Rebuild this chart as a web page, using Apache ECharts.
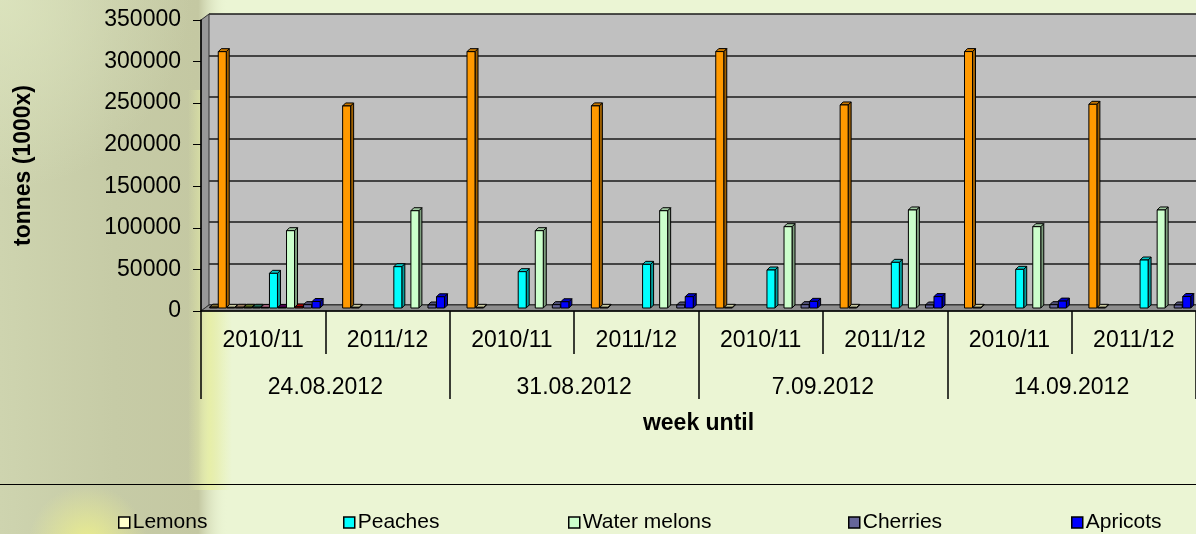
<!DOCTYPE html>
<html>
<head>
<meta charset="utf-8">
<script src="https://cdn.jsdelivr.net/npm/echarts@6/dist/echarts.min.js"></script>
<style>
html, body {margin: 0; padding: 0; background: #EBF5D4;}
#main {width: 1196px; height: 534px;}
</style>
</head>
<body>
<div id="main"></div>
<script>
// categories
var seasons = ['2010/11', '2011/12', '2010/11', '2011/12', '2010/11', '2011/12', '2010/11', '2011/12'];
var weeks = ['24.08.2012', '31.08.2012', '7.09.2012', '14.09.2012'];
var yTicks = {min: 0, max: 350000, step: 50000};

// series values (tonnes x1000), one per season column
var other1 = [1000, 0, 0, 0, 0, 0, 0, 0];
var oranges = [308300, 243000, 308300, 243100, 308400, 244200, 308400, 245000];
var lemons = [800, 800, 800, 800, 800, 800, 800, 800];
var other2 = [900, 0, 0, 0, 0, 0, 0, 0];
var other3 = [900, 0, 0, 0, 0, 0, 0, 0];
var other4 = [900, 0, 0, 0, 0, 0, 0, 0];
var other5 = [700, 0, 0, 0, 0, 0, 0, 0];
var peaches = [41700, 49700, 43700, 52500, 45700, 54900, 46500, 57700];
var other6 = [700, 0, 0, 0, 0, 0, 0, 0];
var waterMelons = [93000, 117000, 93000, 117000, 97800, 117900, 97800, 117900];
var other7 = [1300, 0, 0, 0, 0, 0, 0, 0];
var cherries = [4000, 3600, 4000, 3600, 4000, 3600, 4000, 3600];
var apricots = [7800, 13500, 7500, 13600, 8000, 13700, 8300, 13800];

// names as drawn in the visible legend row
var legendNames = ['Lemons', 'Peaches', 'Water melons', 'Cherries', 'Apricots'];
var legendLeft = [118, 343, 568, 848, 1071];

var fruits = [
    {name: 'Other 1', color: '#A08A40', data: other1},
    {name: 'Oranges', color: '#FF9900', data: oranges},
    {name: 'Lemons', color: '#FFFFCC', data: lemons},
    {name: 'Other 2', color: '#C8A07A', data: other2},
    {name: 'Other 3', color: '#7C9232', data: other3},
    {name: 'Other 4', color: '#2E8B70', data: other4},
    {name: 'Other 5', color: '#D080A0', data: other5},
    {name: 'Peaches', color: '#00FFFF', data: peaches},
    {name: 'Other 6', color: '#660066', data: other6},
    {name: 'Water melons', color: '#CCFFCC', data: waterMelons},
    {name: 'Other 7', color: '#CC0000', data: other7},
    {name: 'Cherries', color: '#666699', data: cherries},
    {name: 'Apricots', color: '#0000FF', data: apricots}
];

var FONT = 'Arial, "Liberation Sans", sans-serif';
var AXIS_FS = 23;
// plot frame (front) and 3d depth of the back wall
var GL = 201, GT = 20, GB = 311, GRIGHT = -8, DEPTH = 6;
var BAR_W = 8, BAR_D = 3;

function shade(hex, k) {
    var n = parseInt(hex.slice(1), 16);
    var r = Math.round(((n >> 16) & 255) * k);
    var g = Math.round(((n >> 8) & 255) * k);
    var b = Math.round((n & 255) * k);
    return 'rgb(' + r + ',' + g + ',' + b + ')';
}

function makeRender(slot, color) {
    var side = shade(color, 0.62);
    var topc = shade(color, 0.78);
    return function (params, api) {
        var v = api.value(1);
        if (!v) return null;
        var c = api.value(0);
        var band = api.size([1, 0])[0];
        var pitch = band * 0.0686;
        var base = api.coord([c, 0]);
        var x = base[0] - pitch * fruits.length / 2 + slot * pitch + 2;
        var yb = base[1] - DEPTH / 2;
        var yt = api.coord([c, v])[1] - DEPTH / 2;
        var w = BAR_W, d = BAR_D;
        var st = {stroke: '#000', lineWidth: 1};
        return {
            type: 'group',
            children: [
                {type: 'polygon', shape: {points: [[x + w, yt], [x + w + d, yt - d], [x + w + d, yb - d], [x + w, yb]]},
                    style: echarts.util.extend({fill: side}, st)},
                {type: 'polygon', shape: {points: [[x, yt], [x + d, yt - d], [x + w + d, yt - d], [x + w, yt]]},
                    style: echarts.util.extend({fill: topc}, st)},
                {type: 'rect', shape: {x: x, y: yt, width: w, height: yb - yt},
                    style: echarts.util.extend({fill: color}, st)}
            ]
        };
    };
}

var series = fruits.map(function (f, i) {
    return {
        name: f.name,
        type: 'custom',
        xAxisIndex: 0,
        yAxisIndex: 0,
        z: 3,
        itemStyle: {color: f.color, borderColor: '#000', borderWidth: 1},
        renderItem: makeRender(i, f.color),
        data: f.data.map(function (v, j) { return [j, v]; })
    };
});

var chart = echarts.init(document.getElementById('main'));

var option = {
    backgroundColor: '#EBF5D4',
    animation: false,
    grid: [
        {left: GL, right: GRIGHT, top: GT, bottom: 534 - GB},
        {left: GL + 8, right: GRIGHT - 8, top: GT - DEPTH, bottom: 534 - GB + DEPTH,
            show: true, backgroundColor: '#C0C0C0', borderWidth: 0}
    ],
    legend: legendNames.map(function (n, i) {
        return {
            data: [n],
            left: legendLeft[i],
            top: 512,
            padding: 0,
            icon: 'rect',
            itemWidth: 11,
            itemHeight: 11,
            itemStyle: {borderColor: '#000', borderWidth: 1.5},
            textStyle: {fontFamily: FONT, fontSize: 21, color: '#000', padding: [0, 0, 0, -2]},
            selectedMode: false
        };
    }),
    xAxis: [
        {
            type: 'category', gridIndex: 0, data: seasons, z: 5,
            name: 'week until', nameLocation: 'middle', nameGap: 101,
            nameTextStyle: {fontFamily: FONT, fontSize: AXIS_FS, fontWeight: 'bold', color: '#000'},
            axisLine: {lineStyle: {color: '#000', width: 1.5}},
            axisTick: {show: true, interval: 0, length: 43, lineStyle: {color: '#000', width: 1.5}},
            axisLabel: {interval: 0, margin: 18, fontFamily: FONT, fontSize: AXIS_FS, color: '#000'}
        },
        {
            type: 'category', gridIndex: 0, data: weeks, position: 'bottom', z: 5,
            axisLine: {show: false},
            axisTick: {show: true, interval: 0, length: 88, lineStyle: {color: '#000', width: 1.5}},
            axisLabel: {interval: 0, margin: 65, fontFamily: FONT, fontSize: AXIS_FS, color: '#000'}
        },
        {type: 'category', gridIndex: 1, data: seasons, show: false}
    ],
    yAxis: [
        {
            type: 'value', gridIndex: 0, min: yTicks.min, max: yTicks.max, interval: yTicks.step, z: 5,
            name: 'tonnes (1000x)', nameLocation: 'middle', nameGap: 166, nameRotate: 90,
            nameTextStyle: {fontFamily: FONT, fontSize: AXIS_FS, fontWeight: 'bold', color: '#000'},
            axisLine: {show: true, lineStyle: {color: '#000', width: 1.5}},
            axisTick: {show: true, length: 8, lineStyle: {color: '#000'}},
            axisLabel: {margin: 20, fontFamily: FONT, fontSize: AXIS_FS, color: '#000',
                formatter: function (v) { return String(v); }},
            splitLine: {show: false}
        },
        {
            type: 'value', gridIndex: 1, min: yTicks.min, max: yTicks.max, interval: yTicks.step,
            axisLine: {show: false}, axisTick: {show: false}, axisLabel: {show: false},
            splitLine: {show: true, lineStyle: {color: '#1a1a1a', width: 1.5}}
        }
    ],
    graphic: [
        // blurred photo on the left of the slide
        {type: 'rect', z: -10, shape: {x: 0, y: 0, width: 228, height: 534},
            style: {fill: new echarts.graphic.LinearGradient(0, 0, 1, 0, [
                {offset: 0, color: '#CED4AF'}, {offset: 0.5, color: '#C6CBA6'},
                {offset: 0.87, color: '#C4C8A2'}, {offset: 1, color: 'rgba(235,245,212,0)'}])}},
        {type: 'rect', z: -9, shape: {x: 0, y: 0, width: 190, height: 220},
            style: {fill: new echarts.graphic.RadialGradient(0, 0, 1, [
                {offset: 0, color: 'rgba(222,230,192,0.8)'}, {offset: 1, color: 'rgba(222,230,192,0)'}])}},
        {type: 'rect', z: -8, shape: {x: 188, y: 90, width: 44, height: 400},
            style: {fill: new echarts.graphic.LinearGradient(0, 0, 1, 0, [
                {offset: 0, color: 'rgba(232,240,165,0)'}, {offset: 0.5, color: 'rgba(232,240,165,0.85)'},
                {offset: 1, color: 'rgba(232,240,165,0)'}])}},
        {type: 'circle', z: -8, shape: {cx: 88, cy: 545, r: 60},
            style: {fill: new echarts.graphic.RadialGradient(0.5, 0.5, 0.5, [
                {offset: 0, color: 'rgba(235,238,140,1)'}, {offset: 1, color: 'rgba(235,238,150,0)'}])}},
        // 3d side wall and floor
        {type: 'polygon', z: 1, shape: {points: [[GL, GT], [GL + 8, GT - DEPTH], [GL + 8, GB - DEPTH], [GL, GB]]},
            style: {fill: '#989898', stroke: '#333', lineWidth: 1}},
        {type: 'polygon', z: 1, shape: {points: [[GL, GB], [GL + 8, GB - DEPTH], [1210, GB - DEPTH], [1202, GB]]},
            style: {fill: '#8E8E8E', stroke: '#333', lineWidth: 1}},
        // legend frame line
        {type: 'line', z: 1, shape: {x1: 0, y1: 484.5, x2: 1196, y2: 484.5},
            style: {stroke: '#000', lineWidth: 1}}
    ],
    series: series
};

chart.setOption(option);
</script>
</body>
</html>
